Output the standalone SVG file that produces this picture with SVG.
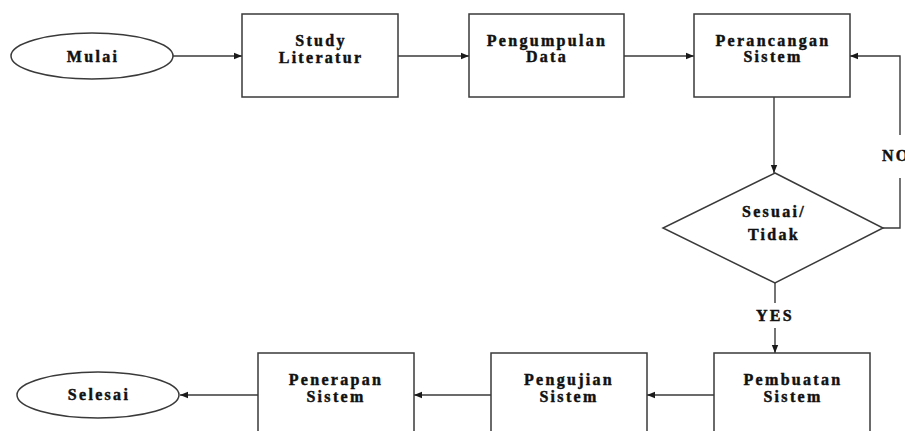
<svg xmlns="http://www.w3.org/2000/svg" width="905" height="431" viewBox="0 0 905 431">
<defs>
<style>
.s{fill:#fff;stroke:#3a3a3a;stroke-width:1.5}
.c{fill:none;stroke:#3a3a3a;stroke-width:1.4}
text{font-family:"Liberation Serif","Times New Roman",serif;font-weight:700;font-size:16px;letter-spacing:2.3px;fill:#111;stroke:#111;stroke-width:0.45px;text-anchor:middle}
</style>
<marker id="a" viewBox="0 0 10 10" refX="10" refY="5" markerWidth="8" markerHeight="8" markerUnits="userSpaceOnUse" orient="auto">
<path d="M0,1 L10,5 L0,9 Z" fill="#1a1a1a"/>
</marker>
</defs>
<rect width="905" height="431" fill="#fff"/>
<g id="connectors">
<line class="c" x1="173" y1="56" x2="242" y2="56" marker-end="url(#a)"/>
<line class="c" x1="398" y1="56" x2="469" y2="56" marker-end="url(#a)"/>
<line class="c" x1="624" y1="56" x2="694" y2="56" marker-end="url(#a)"/>
<line class="c" x1="774" y1="97" x2="774" y2="173" marker-end="url(#a)"/>
<polyline class="c" points="883,228 900,228 900,178"/>
<polyline class="c" points="900,135 900,56 850,56" marker-end="url(#a)"/>
<line class="c" x1="775" y1="283" x2="775" y2="303"/>
<line class="c" x1="775" y1="328" x2="775" y2="353" marker-end="url(#a)"/>
<line class="c" x1="714" y1="395" x2="647" y2="395" marker-end="url(#a)"/>
<line class="c" x1="491" y1="395" x2="414" y2="395" marker-end="url(#a)"/>
<line class="c" x1="258" y1="395" x2="180" y2="395" marker-end="url(#a)"/>
<text x="775" y="321">YES</text>
<text x="882" y="161" style="text-anchor:start">NO</text>
</g>
<g id="mulai">
<ellipse class="s" cx="92" cy="56" rx="81" ry="23"/>
<text x="93" y="62">Mulai</text>
</g>
<g id="study">
<rect class="s" x="242" y="14" width="156" height="83"/>
<text x="321" y="46">Study</text>
<text x="321" y="63">Literatur</text>
</g>
<g id="pengumpulan">
<rect class="s" x="469" y="14" width="155" height="83"/>
<text x="547" y="46">Pengumpulan</text>
<text x="547" y="62">Data</text>
</g>
<g id="perancangan">
<rect class="s" x="694" y="14" width="156" height="83"/>
<text x="773" y="46">Perancangan</text>
<text x="773" y="62">Sistem</text>
</g>
<g id="keputusan">
<polygon class="s" points="775,173 883,228 775,283 663,228"/>
<text x="774" y="217">Sesuai/</text>
<text x="774" y="240">Tidak</text>
</g>
<g id="pembuatan">
<rect class="s" x="714" y="353" width="156" height="90"/>
<text x="793" y="385">Pembuatan</text>
<text x="793" y="402">Sistem</text>
</g>
<g id="pengujian">
<rect class="s" x="491" y="353" width="156" height="90"/>
<text x="569" y="385">Pengujian</text>
<text x="569" y="402">Sistem</text>
</g>
<g id="penerapan">
<rect class="s" x="258" y="353" width="156" height="90"/>
<text x="336" y="385">Penerapan</text>
<text x="336" y="402">Sistem</text>
</g>
<g id="selesai">
<ellipse class="s" cx="98" cy="395" rx="81" ry="23"/>
<text x="99" y="400">Selesai</text>
</g>
</svg>
